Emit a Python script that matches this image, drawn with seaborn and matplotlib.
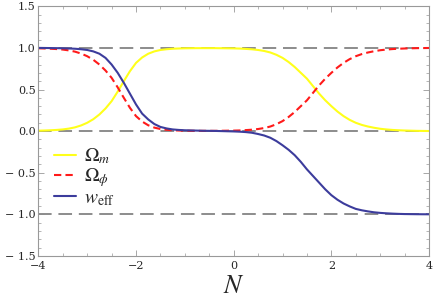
import numpy as np
import pandas as pd
import seaborn as sns
import matplotlib.pyplot as plt
from matplotlib.ticker import MultipleLocator, FuncFormatter

sns.set_style("ticks")
plt.rcParams['font.family'] = ['Liberation Serif', 'DejaVu Serif']
plt.rcParams['mathtext.fontset'] = 'stix'

# e-folding number N, step 1/8
N = [-4.0, -3.875, -3.75, -3.625, -3.5, -3.375, -3.25, -3.125,
     -3.0, -2.875, -2.75, -2.625, -2.5, -2.375, -2.25, -2.125,
     -2.0, -1.875, -1.75, -1.625, -1.5, -1.375, -1.25, -1.125,
     -1.0, -0.875, -0.75, -0.625, -0.5, -0.375, -0.25, -0.125,
     0.0, 0.125, 0.25, 0.375, 0.5, 0.625, 0.75, 0.875,
     1.0, 1.125, 1.25, 1.375, 1.5, 1.625, 1.75, 1.875,
     2.0, 2.125, 2.25, 2.375, 2.5, 2.625, 2.75, 2.875,
     3.0, 3.125, 3.25, 3.375, 3.5, 3.625, 3.75, 3.875, 4.0]

omega_phi = [0.995, 0.993, 0.99, 0.986, 0.98, 0.970, 0.955, 0.932,
             0.90, 0.857, 0.80, 0.728, 0.64, 0.525, 0.40, 0.28,
             0.18, 0.115, 0.07, 0.042, 0.025, 0.016, 0.010, 0.007,
             0.005, 0.004, 0.003, 0.003, 0.003, 0.003, 0.004, 0.005,
             0.006, 0.008, 0.012, 0.017, 0.025, 0.037, 0.055, 0.083,
             0.12, 0.17, 0.23, 0.30, 0.37, 0.46, 0.55, 0.63,
             0.70, 0.765, 0.82, 0.865, 0.90, 0.926, 0.945, 0.960,
             0.972, 0.980, 0.986, 0.990, 0.993, 0.995, 0.997, 0.998, 0.999]

omega_m = [1 - v for v in omega_phi]

w_eff = [1.0, 0.999, 0.998, 0.997, 0.995, 0.993, 0.99, 0.984,
         0.975, 0.958, 0.93, 0.88, 0.80, 0.70, 0.58, 0.45,
         0.32, 0.21, 0.14, 0.085, 0.05, 0.032, 0.02, 0.014,
         0.01, 0.008, 0.006, 0.004, 0.003, 0.002, 0.0, -0.002,
         -0.004, -0.007, -0.012, -0.02, -0.035, -0.053, -0.08, -0.12,
         -0.17, -0.225, -0.29, -0.37, -0.46, -0.54, -0.62, -0.70,
         -0.77, -0.825, -0.87, -0.905, -0.935, -0.952, -0.965, -0.976,
         -0.983, -0.988, -0.992, -0.995, -0.997, -0.998, -0.999, -0.9995, -1.0]

df = pd.DataFrame({'N': N, 'om': omega_m, 'ophi': omega_phi, 'w': w_eff})

fig, ax = plt.subplots(figsize=(4.36, 3.0), dpi=100)
fig.subplots_adjust(left=0.088, right=0.984, top=0.979, bottom=0.147)

for yv in [1.0, 0.0, -1.0]:
    ax.axhline(yv, color='#8c8c8c', lw=1.4, dashes=(7, 3.5), zorder=1)

sns.lineplot(data=df, x='N', y='om', ax=ax, color='#ffff1a', lw=1.5, label=r'$\Omega_m$')
sns.lineplot(data=df, x='N', y='ophi', ax=ax, color='#ff1a1a', lw=1.5,
             label=r'$\Omega_\phi$').lines[-1].set_dashes((3.5, 2))
sns.lineplot(data=df, x='N', y='w', ax=ax, color='#3c3c9c', lw=1.5, label=r'$w_{\rm eff}$')

ax.set_xlim(-4, 4)
ax.set_ylim(-1.5, 1.5)
ax.xaxis.set_major_locator(MultipleLocator(2))
ax.xaxis.set_minor_locator(MultipleLocator(0.5))
ax.yaxis.set_major_locator(MultipleLocator(0.5))
ax.yaxis.set_minor_locator(MultipleLocator(0.1))
ax.xaxis.set_major_formatter(FuncFormatter(lambda v, p: ('%d' % v).replace('-', '\u2212')))
ax.yaxis.set_major_formatter(FuncFormatter(lambda v, p: ('%.1f' % v).replace('-', '\u2212 ')))
ax.tick_params(which='both', direction='in', top=True, right=True, color='#999999')
ax.tick_params(axis='x', pad=4)
ax.tick_params(axis='y', pad=2)
ax.tick_params(which='major', length=4, width=0.6)
ax.tick_params(which='minor', length=2, width=0.5)
for lab in ax.get_xticklabels() + ax.get_yticklabels():
    lab.set_family('DejaVu Serif')
    lab.set_fontsize(8)
for s in ax.spines.values():
    s.set_color('#999999')
    s.set_linewidth(0.8)

ax.set_xlabel(r'$N$', fontsize=19, labelpad=3)
ax.set_ylabel('')

leg = ax.legend(loc='upper left', bbox_to_anchor=(0.0, 0.50), frameon=False, fontsize=14,
                handlelength=1.15, handletextpad=0.4, labelspacing=0.0, borderaxespad=0.4)

plt.savefig('out.png', dpi=100)
